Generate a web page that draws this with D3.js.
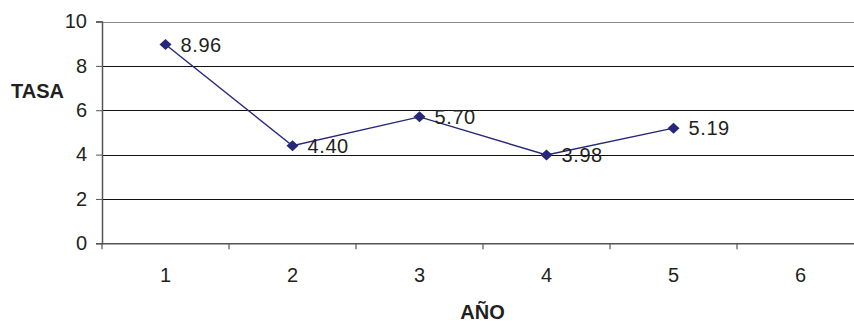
<!DOCTYPE html>
<html><head><meta charset="utf-8">
<script src="https://cdn.jsdelivr.net/npm/d3@7"></script>
<style>body{margin:0;background:#fff}svg{display:block}text{font-family:"Liberation Sans",Arial,sans-serif}</style>
</head><body>
<svg id="c" width="854" height="322"></svg>
<script>
const categories = ["1","2","3","4","5","6"];
const values = [8.96, 4.40, 5.70, 3.98, 5.19];
const yTicks = [0,2,4,6,8,10];
const yTitle = "TASA";
const xTitle = "AÑO";

(function(){
const svg = d3.select("#c");
const mL = 102, mR = 864, mT = 21.5, mB = 243.3;
const x = d3.scaleBand().domain(categories).range([mL, mR]);
const y = d3.scaleLinear().domain([0,10]).range([mB, mT]);
const txt = "#231f20";
const fs = 20;

// gridlines
svg.append("g").selectAll("line").data(yTicks.filter(d=>d>0)).join("line")
  .attr("x1", mL).attr("x2", mR)
  .attr("y1", d=>Math.round(y(d))+0.5).attr("y2", d=>Math.round(y(d))+0.5)
  .attr("stroke", d=>d===10?"#8a8a8a":"#111").attr("stroke-width",1.2);

// y axis
const ya = svg.append("g").attr("transform", `translate(${mL},0)`)
  .call(d3.axisLeft(y).tickValues(yTicks).tickSize(6).tickPadding(9).tickFormat(d3.format("d")));
ya.select(".domain").attr("stroke","#555").attr("stroke-width",1.5);
ya.selectAll(".tick line").attr("stroke","#555");
ya.selectAll("text").attr("font-size",fs).attr("fill",txt).style("font-family","Liberation Sans, Arial");

// x axis
const xa = svg.append("g").attr("transform", `translate(0,${mB})`)
  .call(d3.axisBottom(x).tickSize(0).tickPadding(25));
xa.select(".domain").attr("stroke","#555").attr("stroke-width",1.5);
xa.selectAll("text").attr("font-size",fs).attr("fill",txt).style("font-family","Liberation Sans, Arial");
// tick marks between categories
svg.append("g").selectAll("line").data(categories).join("line")
  .attr("x1", d=>x(d)).attr("x2", d=>x(d))
  .attr("y1", mB).attr("y2", mB+6)
  .attr("stroke","#555").attr("stroke-width",1.2);

// line
const pts = values.map((v,i)=>[x(categories[i])+x.bandwidth()/2, y(v)]);
svg.append("path").attr("d", d3.line()(pts)).attr("fill","none")
  .attr("stroke","#26267a").attr("stroke-width",1.4);
svg.append("g").selectAll("path").data(pts).join("path")
  .attr("transform", d=>`translate(${d[0]},${d[1]})`)
  .attr("d","M0,-5.5L6,0L0,5.5L-6,0Z").attr("fill","#26267a");
svg.append("g").selectAll("text").data(values).join("text")
  .attr("x",(d,i)=>pts[i][0]+15).attr("y",(d,i)=>pts[i][1])
  .attr("dy","0.36em").attr("font-size",fs).attr("fill",txt)
  .attr("letter-spacing",0.6)
  .text(d=>d3.format(".2f")(d));

// titles
svg.append("text").attr("x",11).attr("y",97.5).attr("font-size",fs).attr("font-weight","bold")
  .attr("fill",txt).text(yTitle);
svg.append("text").attr("x",482.5).attr("y",319).attr("text-anchor","middle").attr("font-size",fs)
  .attr("font-weight","bold").attr("fill",txt).text(xTitle);
})();
</script>
</body></html>
